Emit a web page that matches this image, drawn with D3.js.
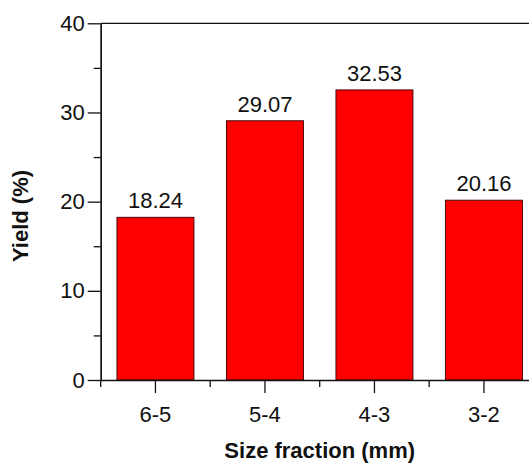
<!DOCTYPE html>
<html>
<head>
<meta charset="utf-8">
<script src="https://cdn.jsdelivr.net/npm/d3@7"></script>
<style>
  body { margin: 0; background: #fff; }
  text { font-family: "Liberation Sans", Arial, sans-serif; fill: #111; }
</style>
</head>
<body>
<svg id="chart" width="529" height="464"></svg>
<script>
// data
const fractions = ["6-5", "5-4", "4-3", "3-2"];
const yields = [18.24, 29.07, 32.53, 20.16];
const yTicks = [0, 10, 20, 30, 40];
const yMinor = [5, 15, 25, 35];

let svg = d3.select("#chart");

let plotLeft = 100.7, plotRight = 538.7, plotTop = 23.3, plotBottom = 380;

let x = d3.scaleBand()
  .domain(fractions)
  .range([plotLeft, plotRight])
  .paddingInner(0.297)
  .paddingOuter(0.1485);

let y = d3.scaleLinear()
  .domain([0, 40])
  .range([plotBottom, plotTop]);

// bars
svg.append("g")
  .selectAll("rect")
  .data(yields)
  .enter()
  .append("rect")
    .attr("x", (d, i) => x(fractions[i]))
    .attr("y", d => y(d))
    .attr("width", x.bandwidth())
    .attr("height", d => y(0) - y(d))
    .attr("fill", "#ff0000")
    .attr("stroke", "#4a0a0a")
    .attr("stroke-width", 1);

// value labels
svg.append("g")
  .selectAll("text")
  .data(yields)
  .enter()
  .append("text")
    .attr("x", (d, i) => x(fractions[i]) + x.bandwidth() / 2)
    .attr("y", d => y(d) - 9)
    .attr("text-anchor", "middle")
    .attr("font-size", 22)
    .text(d => d.toFixed(2));

// y axis, major and minor ticks
svg.append("g")
  .attr("transform", `translate(${plotLeft},0)`)
  .call(d3.axisLeft(y).tickValues(yTicks).tickSize(13).tickSizeOuter(0).tickPadding(3));
svg.append("g")
  .attr("transform", `translate(${plotLeft},0)`)
  .call(d3.axisLeft(y).tickValues(yMinor).tickSize(7).tickFormat("").tickSizeOuter(0));

// x axis: major ticks at centers, minor ticks on boundaries
svg.append("g")
  .attr("transform", `translate(0,${plotBottom})`)
  .call(d3.axisBottom(x).tickSize(13).tickSizeOuter(0).tickPadding(13));
let bounds = d3.range(fractions.length + 1).map(i => plotLeft + i * x.step());
svg.append("g")
  .selectAll("line")
  .data(bounds)
  .enter()
  .append("line")
    .attr("x1", d => d).attr("x2", d => d)
    .attr("y1", plotBottom).attr("y2", plotBottom + 7)
    .attr("stroke", "#111")
    .attr("stroke-width", 1.3);

// frame top and right
svg.append("line")
  .attr("x1", plotLeft).attr("x2", plotRight)
  .attr("y1", plotTop).attr("y2", plotTop)
  .attr("stroke", "#111").attr("stroke-width", 1.3);
svg.append("line")
  .attr("x1", plotRight).attr("x2", plotRight)
  .attr("y1", plotTop).attr("y2", plotBottom)
  .attr("stroke", "#111").attr("stroke-width", 1.3);

svg.selectAll(".domain, .tick line")
  .attr("stroke", "#111")
  .attr("stroke-width", 1.3);
svg.selectAll(".tick text")
  .attr("font-size", 22)
  .attr("fill", "#111");

// axis titles
svg.append("text")
  .attr("x", plotLeft + 2 * x.step())
  .attr("y", 458)
  .attr("text-anchor", "middle")
  .attr("font-size", 22)
  .attr("font-weight", "bold")
  .text("Size fraction (mm)");

svg.append("text")
  .attr("transform", "translate(27.5,216) rotate(-90)")
  .attr("text-anchor", "middle")
  .attr("font-size", 22)
  .attr("font-weight", "bold")
  .text("Yield (%)");
</script>
</body>
</html>
